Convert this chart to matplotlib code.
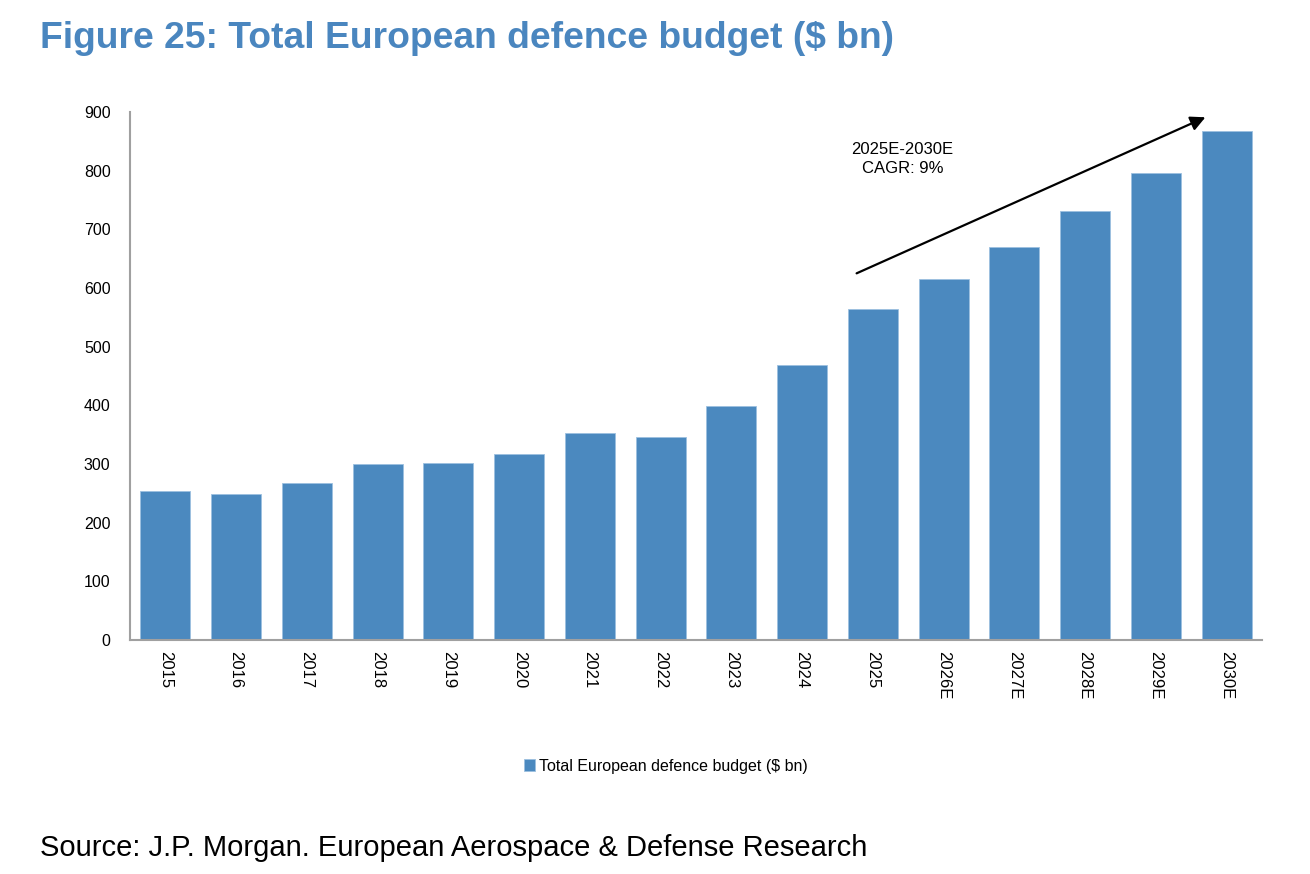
import matplotlib
matplotlib.use("Agg")
import matplotlib.pyplot as plt
from matplotlib import font_manager as fm

years = ["2015", "2016", "2017", "2018", "2019", "2020", "2021", "2022",
         "2023", "2024", "2025", "2026E", "2027E", "2028E", "2029E", "2030E"]
budget = [254, 249, 268, 300, 302, 317, 353, 346,
          399, 469, 564, 615, 670, 731, 796, 868]

yticks = [0, 100, 200, 300, 400, 500, 600, 700, 800, 900]
series_label = "Total European defence budget ($ bn)"
title = "Figure 25: Total European defence budget ($ bn)"
source = "Source: J.P. Morgan. European Aerospace & Defense Research"
cagr_text = "2025E-2030E\nCAGR: 9%"

BAR = "#4b89bf"
TITLE_BLUE = "#4a86bf"

# Arial Narrow would be ideal; fall back to Liberation Sans
names = {f.name for f in fm.fontManager.ttflist}
narrow = "Liberation Sans Narrow" if "Liberation Sans Narrow" in names else "Liberation Sans"
plt.rcParams["font.family"] = [narrow, "DejaVu Sans"]

fig = plt.figure(figsize=(13.1, 8.74), dpi=100)
ax = fig.add_axes([130 / 1310, 1 - 640 / 874, (1262 - 130) / 1310, (640 - 112) / 874])

x = range(len(years))
ax.bar(x, budget, width=0.71, color=BAR, edgecolor="#9cc0e0", linewidth=0.6,
       label=series_label, zorder=2)

ax.set_xlim(-0.5, len(years) - 0.5)
ax.set_ylim(0, 900)
ax.set_yticks(yticks)
ax.set_xticks(list(x))
ax.set_xticklabels(years, rotation=-90, fontsize=12)
ax.tick_params(axis="y", labelsize=11.5, length=0, pad=14)
ax.tick_params(axis="x", length=0, pad=8)
for s in ["top", "right"]:
    ax.spines[s].set_visible(False)
for s in ["left", "bottom"]:
    ax.spines[s].set_color("#a0a0a0")
    ax.spines[s].set_linewidth(1.5)

# CAGR arrow + label
ax.annotate("", xy=(14.70, 891), xytext=(9.77, 625),
            arrowprops=dict(arrowstyle="-|>", color="black", lw=1.6,
                            mutation_scale=22, shrinkA=0, shrinkB=0),
            annotation_clip=False)
ax.text(10.42, 820, cagr_text, ha="center", va="center", fontsize=12,
        linespacing=1.4)

fig.legend(loc="center", bbox_to_anchor=(0.508, 1 - 766 / 874), frameon=False,
           fontsize=11.5, handlelength=0.75, handleheight=0.75, handletextpad=0.2)

fig.text(40 / 1310, 1 - 38 / 874, title, fontsize=26.8, fontweight="bold",
         color=TITLE_BLUE, ha="left", va="center")
fig.text(40 / 1310, 1 - 848 / 874, source, fontsize=21, ha="left", va="center")

fig.savefig("out.png", dpi=100)
